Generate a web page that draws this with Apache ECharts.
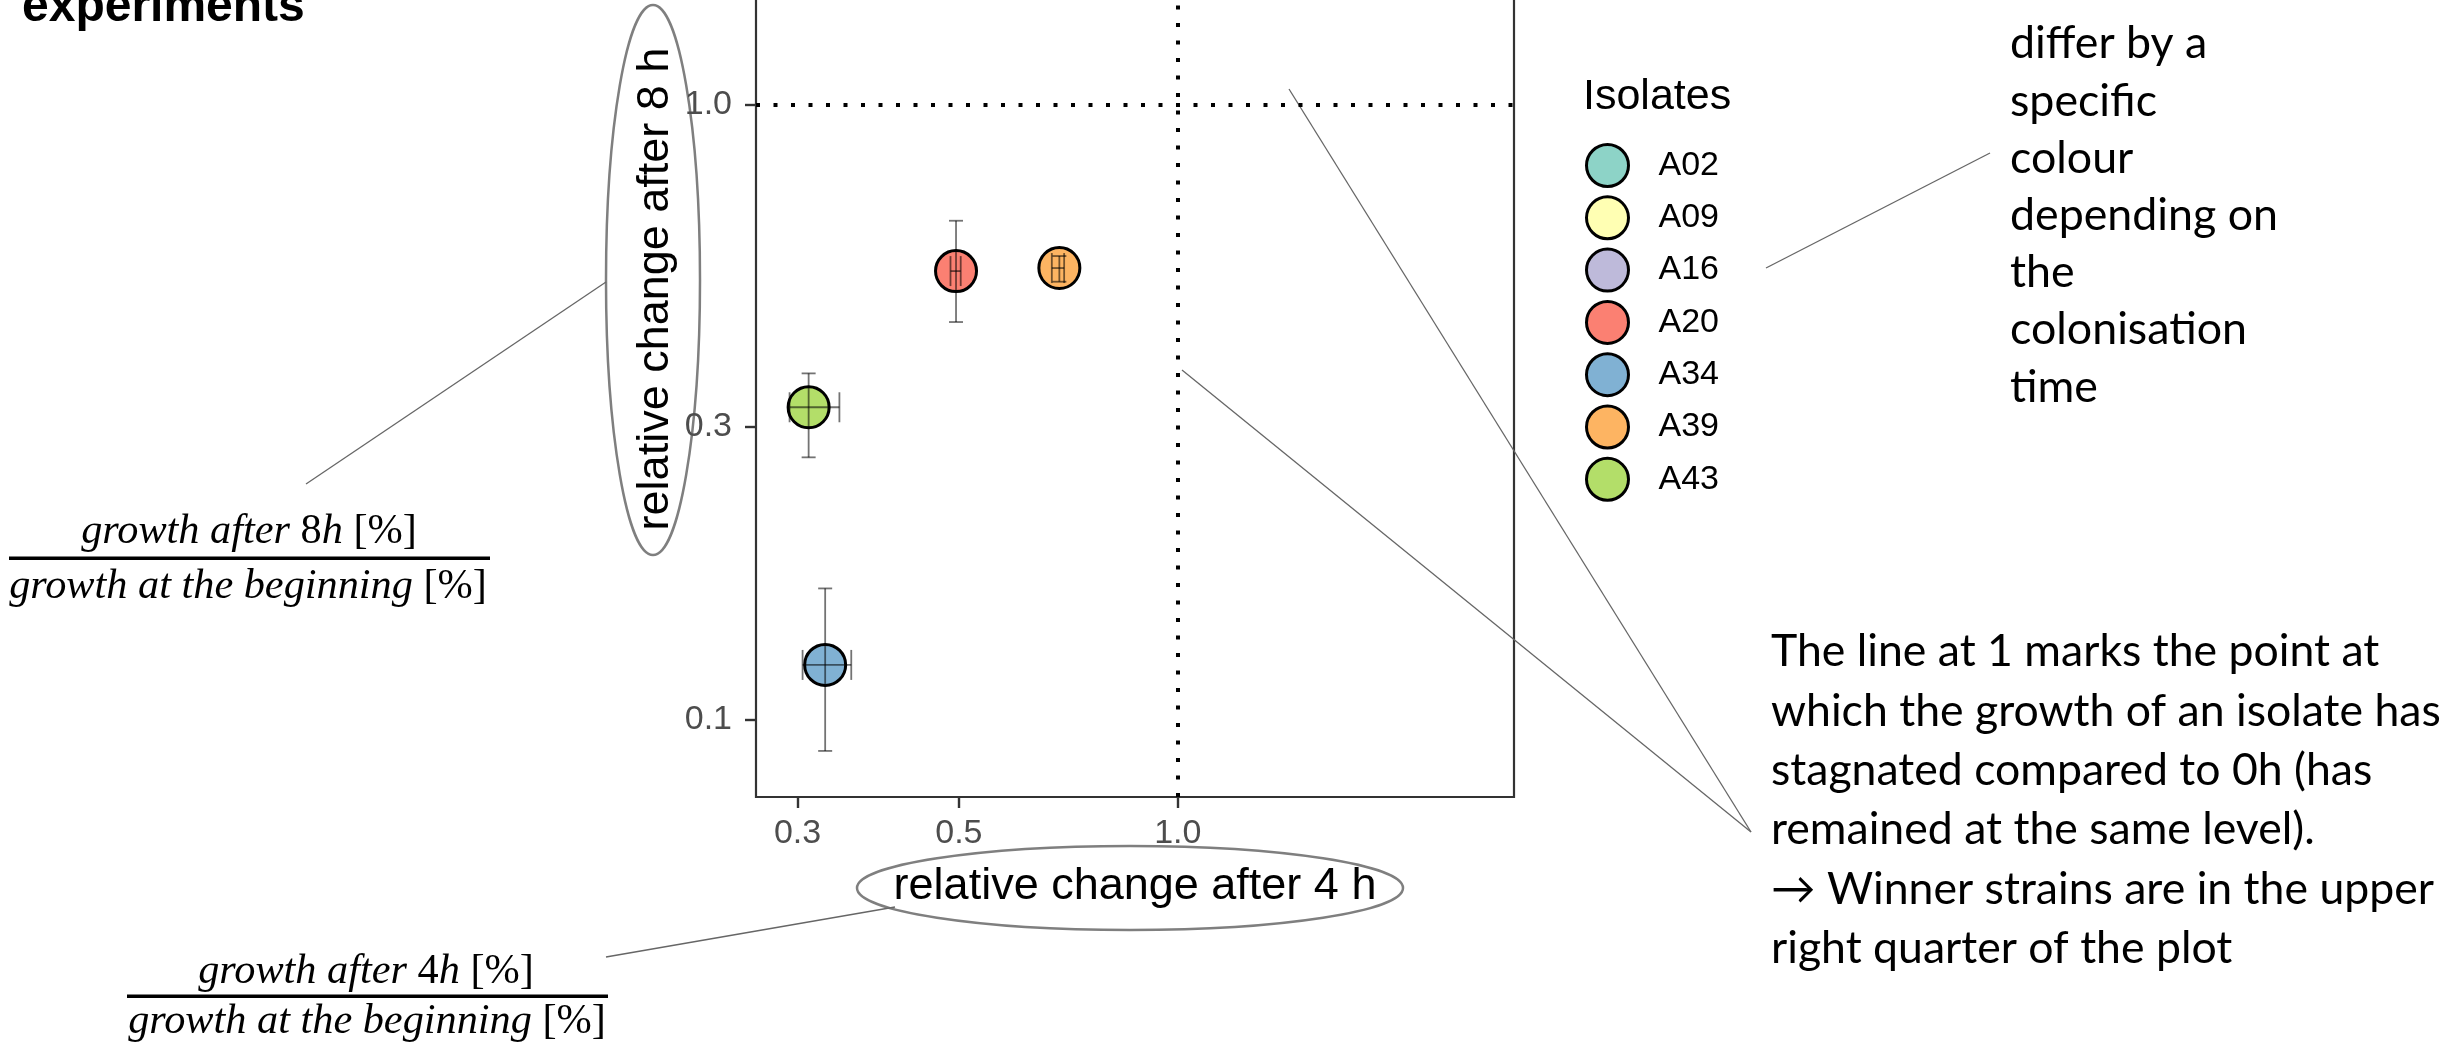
<!DOCTYPE html>
<html><head><meta charset="utf-8">
<script src="https://cdn.jsdelivr.net/npm/echarts@6/dist/echarts.min.js"></script>
<style>html,body{margin:0;padding:0;background:#fff}#c{width:2458px;height:1046px}</style>
</head><body><div id="c"></div><script>
// ---------- data ----------
const isolates = ['A02', 'A09', 'A16', 'A20', 'A34', 'A39', 'A43'];
const isolateColors = ['#8DD3C7', '#FFFFB3', '#BEBADA', '#FB8072', '#80B1D3', '#FDB462', '#B3DE69'];
// relative change after 4 h (x) : mean and error-bar limits (null = not visible in this view)
const change4h     = [null, null, null, 0.4955, 0.3274, 0.6873, 0.3107];
const change4hLow  = [null, null, null, 0.4869, 0.3048, 0.6711, 0.2925];
const change4hHigh = [null, null, null, 0.5029, 0.3556, 0.6978, 0.3425];
// relative change after 8 h (y)
const change8h     = [null, null, null, 0.536, 0.1229, 0.5421, 0.3221];
const change8hLow  = [null, null, null, 0.443, 0.0891, 0.5151, 0.2671];
const change8hHigh = [null, null, null, 0.647, 0.1636, 0.5670, 0.3656];
// axis ticks
const xTickValues = [0.3, 0.5, 1.0];
const xTickLabels = ['0.3', '0.5', '1.0'];
const yTickValues = [0.1, 0.3, 1.0];
const yTickLabels = ['0.1', '0.3', '1.0'];
const xRange = [0.263, 2.9];
const yRange = [0.0750, 3.35];
const referenceLevel = 1.0;

// ---------- helpers ----------
const L = Math.log10;
const ctx = document.createElement('canvas').getContext('2d');
function tw(str, font) { ctx.font = font; return ctx.measureText(str).width; }
function fitSize(parts, family, target) {
  let w = 0;
  for (const [t, it] of parts) w += tw(t, (it ? 'italic ' : '') + '100px ' + family);
  return 100 * target / w;
}
function labelFor(vals, labels) {
  return v => { const i = vals.findIndex(t => Math.abs(L(t) - v) < 1e-6); return i >= 0 ? labels[i] : ''; };
}

const AX = '"Liberation Sans", Arial, sans-serif';
const SERIF = '"Liberation Serif"';
const NOTE = 'Lato';

// ---------- series ----------
const series = isolates.map((name, i) => ({
  name, type: 'scatter', symbol: 'circle', symbolSize: 41, z: 2,
  itemStyle: { color: isolateColors[i], borderColor: '#000', borderWidth: 3, opacity: 1 },
  data: change4h[i] == null ? [] : [[L(change4h[i]), L(change8h[i])]]
}));

const errRows = [];
isolates.forEach((n, i) => {
  if (change4h[i] == null) return;
  errRows.push([L(change4h[i]), L(change4hLow[i]), L(change4hHigh[i]),
                L(change8h[i]), L(change8hLow[i]), L(change8hHigh[i])]);
});
series.push({
  name: 'errorbars', type: 'custom', z: 5, silent: true,
  encode: { x: [0, 1, 2], y: [3, 4, 5] },
  data: errRows,
  renderItem(params, api) {
    const x = api.value(0), xl = api.value(1), xh = api.value(2);
    const y = api.value(3), yl = api.value(4), yh = api.value(5);
    const c = api.coord([x, y]);
    const pyl = api.coord([x, yl])[1], pyh = api.coord([x, yh])[1];
    const pxl = api.coord([xl, y])[0], pxh = api.coord([xh, y])[0];
    const st = { stroke: 'rgba(0,0,0,0.55)', lineWidth: 1.8 };
    const ln = (x1, y1, x2, y2) => ({ type: 'line', shape: { x1, y1, x2, y2 }, style: st });
    return { type: 'group', children: [
      ln(c[0], pyl, c[0], pyh), ln(c[0] - 7, pyl, c[0] + 7, pyl), ln(c[0] - 7, pyh, c[0] + 7, pyh),
      ln(pxl, c[1], pxh, c[1]), ln(pxl, c[1] - 15, pxl, c[1] + 15), ln(pxh, c[1] - 15, pxh, c[1] + 15)
    ] };
  }
});
series.push({
  name: 'reference', type: 'scatter', data: [], silent: true,
  markLine: {
    silent: true, symbol: 'none', label: { show: false },
    lineStyle: { color: '#000', type: [4, 13.5], width: 4 },
    data: [{ xAxis: L(referenceLevel) }, { yAxis: L(referenceLevel) }]
  }
});

// ---------- annotations ----------
const fracFs = fitSize([['growth at the beginning ', true], ['[%]', false]], SERIF, 478);
function fracText(x, y, italicParts) {
  let txt = '';
  for (const [t, it] of italicParts) txt += '{' + (it ? 'i' : 'r') + '|' + t + '}';
  return { type: 'text', x, y, style: {
    text: txt, align: 'center', verticalAlign: 'middle',
    rich: {
      i: { fontFamily: SERIF, fontStyle: 'italic', fontSize: fracFs, fill: '#000' },
      r: { fontFamily: SERIF, fontSize: fracFs, fill: '#000' }
    } } };
}
const noteFs = fitSize([['which the growth of an isolate has', false]], NOTE, 670);
const noteFs2 = fitSize([['depending on', false]], NOTE, 268);
const note1 = ['The line at 1 marks the point at', 'which the growth of an isolate has',
  'stagnated compared to 0h (has', 'remained at the same level).',
  '\u2192 Winner strains are in the upper', 'right quarter of the plot'];
const note2 = ['differ by a', 'specific', 'colour', 'depending on', 'the', 'colonisation', 'time'];
const gray = '#7f7f7f';
const graphics = [
  { type: 'text', x: 22, y: 8, style: { text: 'experiments', font: 'bold 48px ' + AX, fill: '#000', verticalAlign: 'middle' } },
  { type: 'ellipse', shape: { cx: 653, cy: 280, rx: 47, ry: 275 }, style: { fill: 'none', stroke: gray, lineWidth: 2.5 } },
  { type: 'ellipse', shape: { cx: 1130, cy: 888, rx: 273, ry: 42 }, style: { fill: 'none', stroke: gray, lineWidth: 2.5 } },
  { type: 'line', shape: { x1: 306, y1: 484, x2: 606, y2: 282 }, style: { stroke: '#666', lineWidth: 1.3 } },
  { type: 'line', shape: { x1: 606, y1: 957, x2: 895, y2: 907 }, style: { stroke: '#666', lineWidth: 1.3 } },
  { type: 'line', shape: { x1: 1766, y1: 268, x2: 1990, y2: 153 }, style: { stroke: '#666', lineWidth: 1.3 } },
  { type: 'line', shape: { x1: 1751, y1: 832, x2: 1289, y2: 89 }, style: { stroke: '#666', lineWidth: 1.3 } },
  { type: 'line', shape: { x1: 1751, y1: 832, x2: 1182, y2: 370 }, style: { stroke: '#666', lineWidth: 1.3 } },
  fracText(249, 532, [['growth after ', true], ['8', false], ['h ', true], ['[%]', false]]),
  { type: 'rect', shape: { x: 9, y: 556.5, width: 481, height: 3.5 }, style: { fill: '#000' } },
  fracText(248, 587, [['growth at the beginning ', true], ['[%]', false]]),
  fracText(366, 972, [['growth after ', true], ['4', false], ['h ', true], ['[%]', false]]),
  { type: 'rect', shape: { x: 127, y: 994.5, width: 481, height: 3.5 }, style: { fill: '#000' } },
  fracText(367, 1022, [['growth at the beginning ', true], ['[%]', false]]),
  { type: 'text', x: 1583, y: 97, style: { text: 'Isolates', font: '43px ' + AX, fill: '#000', verticalAlign: 'middle' } }
];
note1.forEach((t, k) => graphics.push({ type: 'text', x: 1771, y: 652 + k * 59.3,
  style: { text: t, font: noteFs + 'px ' + NOTE + ', "Noto Sans", sans-serif', fill: '#000', verticalAlign: 'middle' } }));
note2.forEach((t, k) => graphics.push({ type: 'text', x: 2010, y: 44 + k * 57.2,
  style: { text: t, font: noteFs2 + 'px ' + NOTE + ', "Noto Sans", sans-serif', fill: '#000', verticalAlign: 'middle' } }));

// ---------- chart ----------
const chart = echarts.init(document.getElementById('c'), null, { renderer: 'canvas' });
chart.setOption({
  animation: false,
  backgroundColor: '#fff',
  grid: { left: 756, right: 944, top: -219, bottom: 249, show: true, borderColor: '#333', borderWidth: 2.2,
          backgroundColor: 'transparent', containLabel: false, outerBoundsMode: 'none' },
  xAxis: {
    type: 'value', min: L(xRange[0]), max: L(xRange[1]),
    name: 'relative change after 4 h', nameLocation: 'middle', nameGap: 67,
    nameTextStyle: { fontSize: 45, color: '#000', fontFamily: AX },
    axisLine: { show: false, onZero: false }, splitLine: { show: false },
    axisTick: { show: true, customValues: xTickValues.map(L), length: 11, lineStyle: { color: '#333', width: 2.4 } },
    axisLabel: { customValues: xTickValues.map(L), formatter: labelFor(xTickValues, xTickLabels), fontSize: 34, color: '#4D4D4D', fontFamily: AX, margin: 20 }
  },
  yAxis: {
    type: 'value', min: L(yRange[0]), max: L(yRange[1]),
    name: 'relative change after 8 h', nameLocation: 'middle', nameGap: 78, nameRotate: 90,
    nameTextStyle: { fontSize: 45, color: '#000', fontFamily: AX },
    axisLine: { show: false, onZero: false }, splitLine: { show: false },
    axisTick: { show: true, customValues: yTickValues.map(L), length: 11, lineStyle: { color: '#333', width: 2.4 } },
    axisLabel: { customValues: yTickValues.map(L), formatter: labelFor(yTickValues, yTickLabels), fontSize: 34, color: '#4D4D4D', fontFamily: AX, margin: 24 }
  },
  legend: {
    data: isolates, orient: 'vertical', left: 1580, top: 138, itemWidth: 92, itemHeight: 42, itemGap: 7.3,
    icon: 'circle', selectedMode: false,
    itemStyle: { borderColor: '#000', borderWidth: 3 },
    textStyle: { fontSize: 34, color: '#000', fontFamily: AX }
  },
  graphic: graphics,
  series
});
</script></body></html>
